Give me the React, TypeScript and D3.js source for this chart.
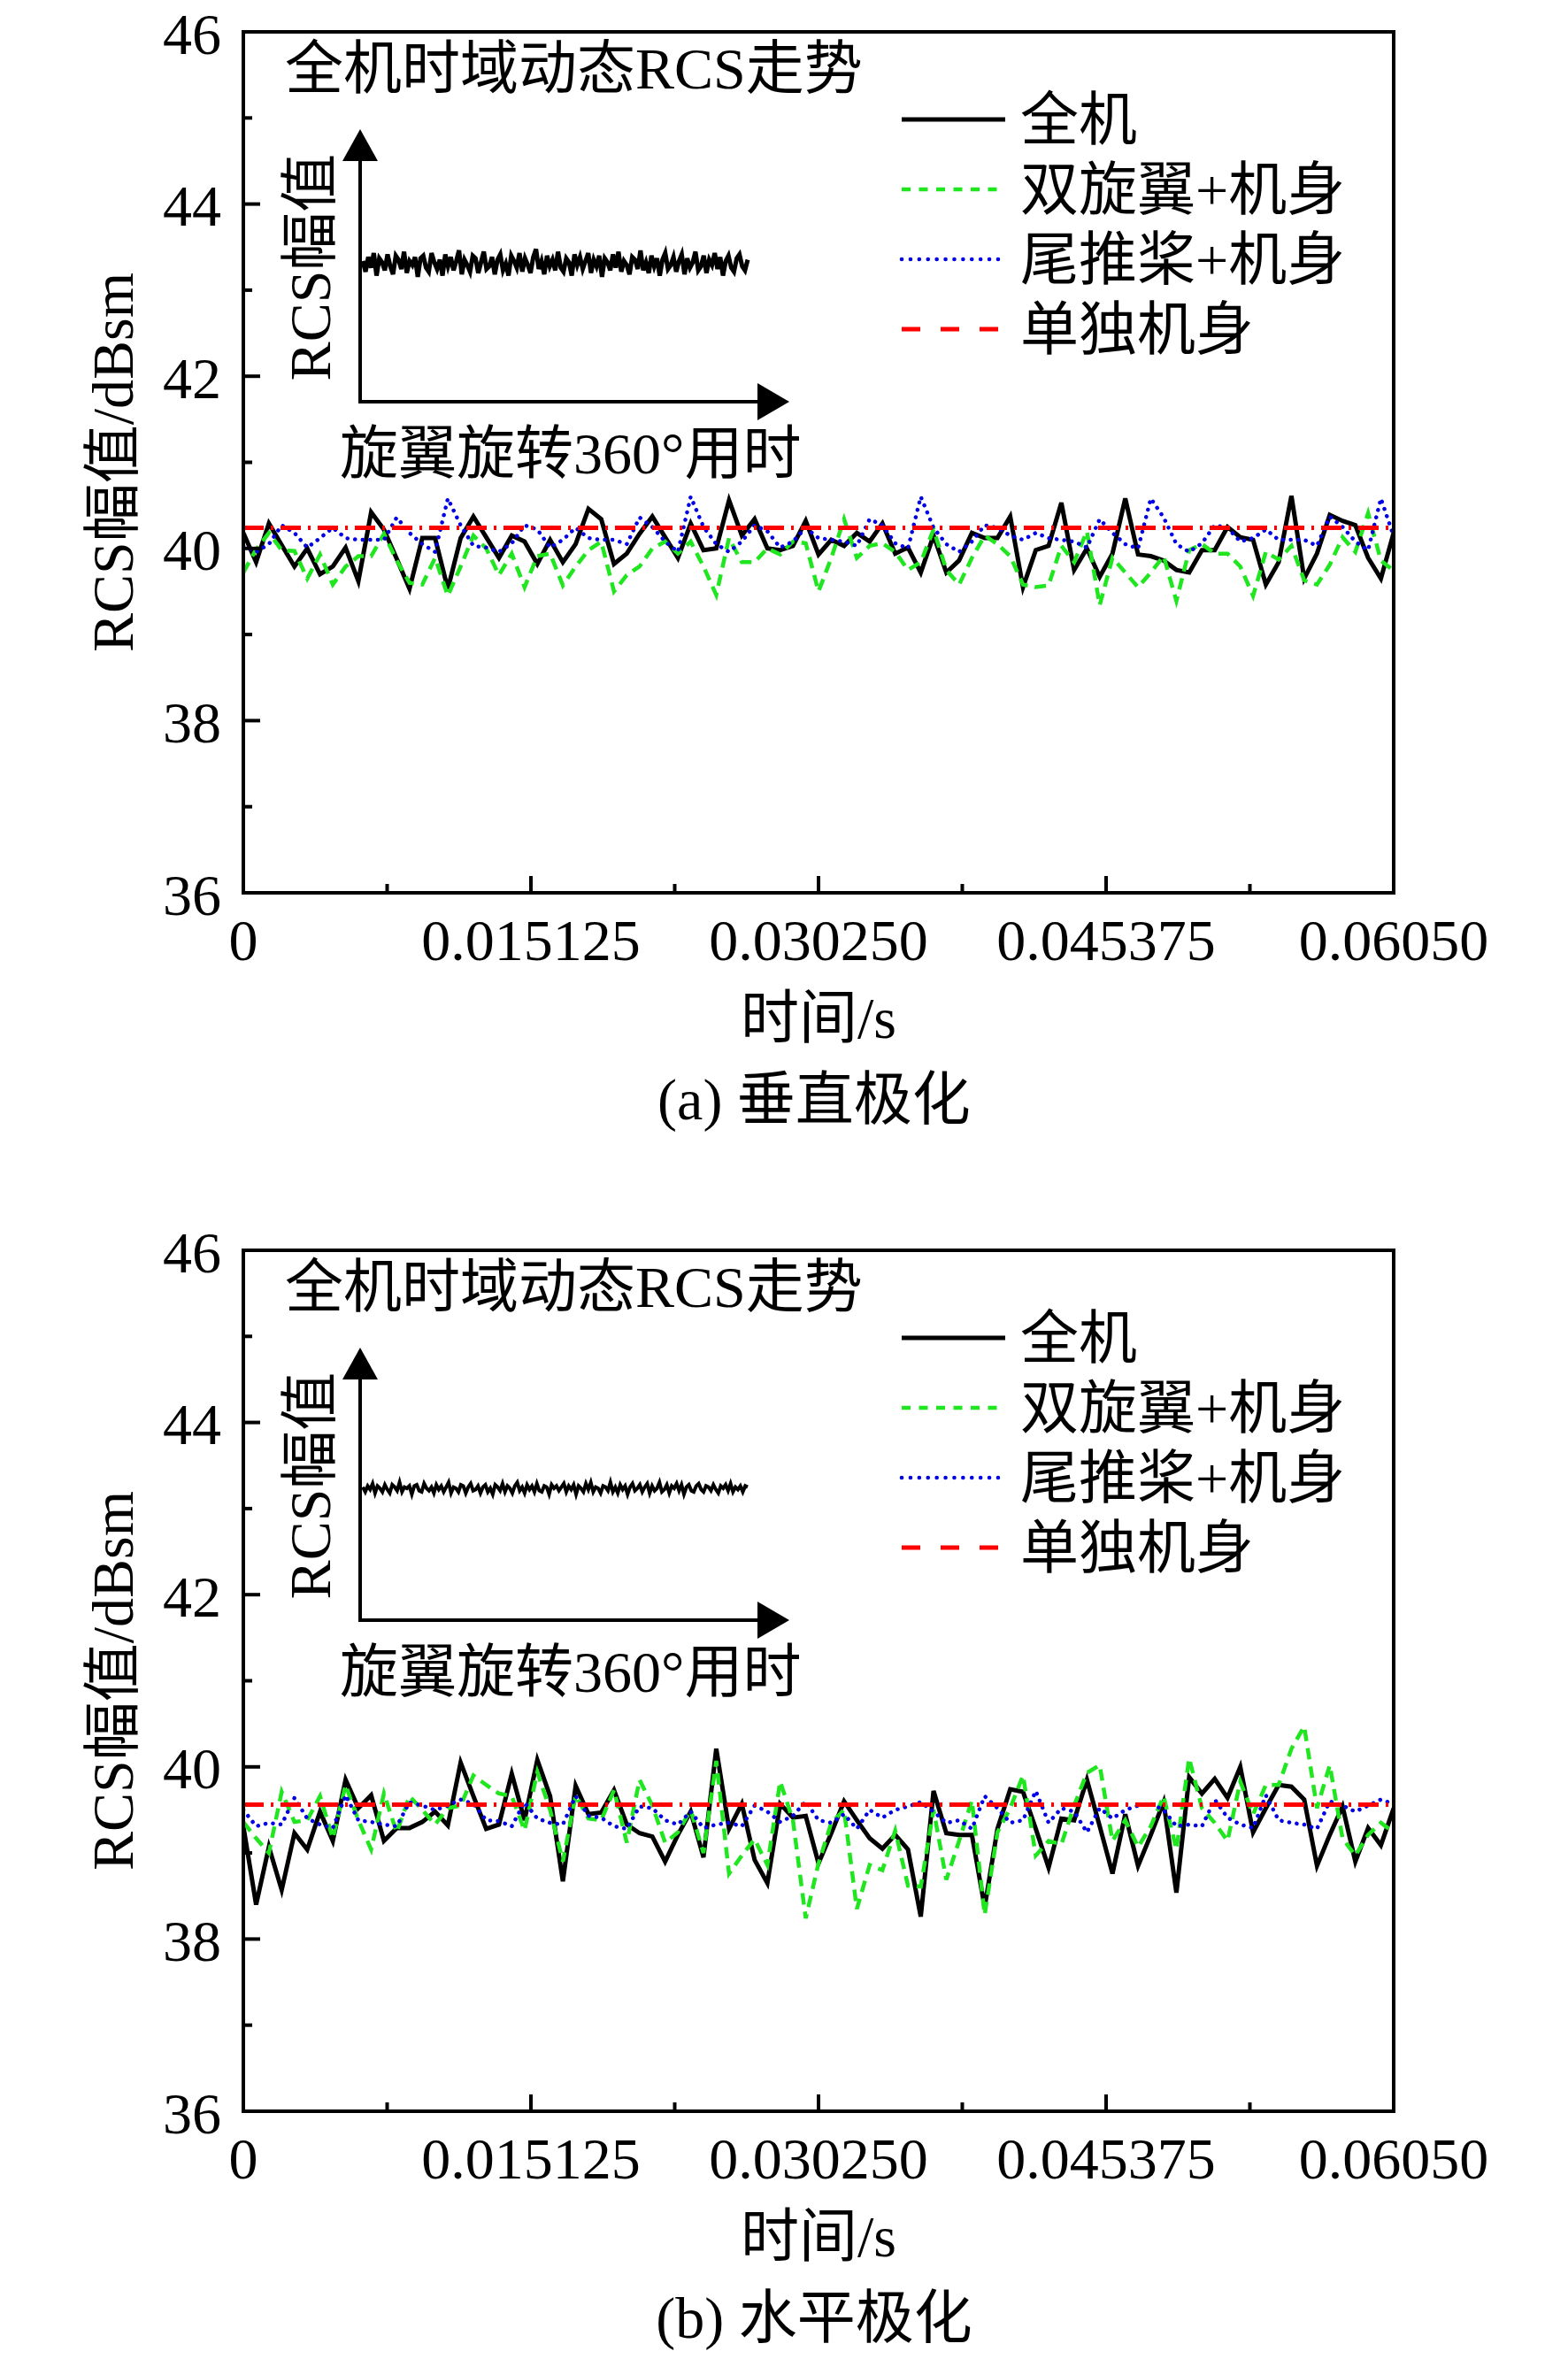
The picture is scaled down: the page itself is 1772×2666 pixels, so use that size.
import React, { useEffect, useRef } from 'react';
import * as d3 from 'd3';

// time axis
const T_END = 0.0605;
const N_STEPS = 90;
const xTickValues = [0, 0.015125, 0.03025, 0.045375, 0.0605];
const xTickLabels = ['0', '0.015125', '0.030250', '0.045375', '0.06050'];
const yTickValues = [36, 38, 40, 42, 44, 46];
const seriesNames = ['全机', '双旋翼+机身', '尾推桨+机身', '单独机身'];

// (a) vertical polarisation
const vWhole = [40.18, 39.84, 40.29, 40.04, 39.79, 40.0, 39.7, 39.79, 40.01, 39.62, 40.42, 40.22, 39.88, 39.53, 40.12, 40.12, 39.53, 40.12, 40.37, 40.13, 39.89, 40.15, 40.08, 39.82, 40.1, 39.84, 40.05, 40.46, 40.34, 39.82, 39.94, 40.17, 40.37, 40.13, 39.89, 40.29, 39.98, 40.0, 40.56, 40.15, 40.34, 40.0, 39.98, 40.03, 40.32, 39.93, 40.1, 40.03, 40.18, 40.08, 40.29, 39.94, 40.01, 39.72, 40.15, 39.72, 39.86, 40.18, 40.12, 40.12, 40.37, 39.55, 39.98, 40.03, 40.53, 39.75, 40.0, 39.67, 39.94, 40.58, 39.93, 39.91, 39.86, 39.75, 39.72, 39.98, 39.98, 40.25, 40.13, 40.1, 39.58, 39.84, 40.61, 39.65, 39.94, 40.39, 40.32, 40.27, 39.89, 39.65, 40.18];
const vRotor = [39.72, 39.99, 40.18, 39.98, 39.97, 39.65, 39.93, 39.58, 39.79, 39.91, 39.91, 40.17, 39.86, 39.6, 39.58, 39.89, 39.45, 39.79, 40.15, 40.0, 39.69, 39.94, 39.55, 39.91, 39.94, 39.57, 39.79, 39.98, 40.08, 39.5, 39.69, 39.79, 40.0, 40.08, 39.94, 40.08, 39.79, 39.46, 40.12, 39.84, 39.84, 40.0, 39.93, 40.08, 40.06, 39.5, 39.89, 40.34, 39.89, 40.03, 40.06, 39.96, 39.75, 39.84, 40.22, 39.75, 39.58, 39.89, 40.15, 40.05, 39.91, 39.58, 39.55, 39.57, 40.03, 39.84, 40.2, 39.34, 39.89, 39.72, 39.55, 39.72, 39.91, 39.39, 39.98, 40.05, 39.94, 39.94, 39.79, 39.45, 39.96, 39.87, 40.03, 39.63, 39.58, 39.81, 40.13, 39.96, 40.41, 39.86, 39.74];
const vProp = [40.03, 39.96, 40.05, 40.27, 40.18, 40.01, 40.12, 40.24, 40.12, 40.1, 40.1, 40.1, 40.36, 40.18, 40.05, 39.96, 40.58, 40.27, 40.03, 40.01, 39.96, 40.06, 40.27, 40.22, 40.01, 40.1, 40.24, 40.12, 40.1, 40.1, 40.05, 40.36, 40.25, 40.08, 39.96, 40.6, 40.25, 40.05, 39.96, 40.08, 40.27, 40.2, 40.01, 40.08, 40.24, 40.12, 40.1, 40.08, 40.03, 40.34, 40.27, 40.06, 40.0, 40.6, 40.24, 40.05, 39.96, 40.08, 40.27, 40.24, 40.15, 40.1, 40.18, 40.12, 40.1, 40.08, 40.01, 40.34, 40.18, 40.05, 40.0, 40.58, 40.36, 40.05, 39.96, 40.06, 40.27, 40.24, 40.08, 40.12, 40.22, 40.1, 40.1, 40.1, 40.03, 40.37, 40.25, 40.08, 39.98, 40.58, 40.14];
const vBody = 40.24;

// (b) horizontal polarisation
const hWhole = [39.31, 38.4, 39.07, 38.57, 39.23, 39.04, 39.48, 39.14, 39.85, 39.52, 39.67, 39.14, 39.29, 39.29, 39.36, 39.48, 39.32, 40.05, 39.66, 39.28, 39.33, 39.92, 39.38, 40.08, 39.66, 38.67, 39.78, 39.45, 39.47, 39.73, 39.33, 39.23, 39.19, 38.9, 39.21, 39.48, 38.95, 40.21, 39.28, 39.57, 38.92, 38.65, 39.57, 39.41, 39.43, 38.88, 39.23, 39.6, 39.38, 39.17, 39.05, 39.21, 39.04, 38.26, 39.72, 39.23, 39.21, 39.21, 38.37, 39.28, 39.74, 39.71, 39.28, 38.83, 39.4, 39.38, 39.85, 39.31, 38.76, 39.45, 38.85, 39.21, 39.59, 38.54, 39.88, 39.69, 39.86, 39.64, 40.0, 39.24, 39.52, 39.79, 39.77, 39.62, 38.85, 39.21, 39.54, 38.9, 39.29, 39.09, 39.52];
const hRotor = [39.36, 39.17, 39.0, 39.71, 39.36, 39.38, 39.66, 39.17, 39.79, 39.38, 39.04, 39.69, 39.24, 39.66, 39.5, 39.33, 39.52, 39.55, 39.9, 39.79, 39.69, 39.66, 39.26, 39.94, 39.5, 38.9, 39.67, 39.4, 39.38, 39.73, 39.12, 39.85, 39.55, 39.12, 39.24, 39.5, 39.0, 40.07, 38.76, 38.97, 39.16, 38.86, 39.83, 39.38, 38.24, 38.88, 39.35, 39.5, 38.35, 38.86, 38.8, 39.26, 38.62, 38.61, 39.5, 38.69, 39.14, 39.61, 38.28, 39.24, 39.52, 39.9, 38.97, 39.14, 39.1, 39.55, 39.93, 40.02, 39.14, 39.38, 39.07, 39.31, 39.66, 39.04, 40.1, 39.52, 39.35, 39.14, 39.83, 39.45, 39.79, 39.79, 40.21, 40.47, 39.52, 40.02, 39.17, 38.97, 39.21, 39.35, 39.24];
const hProp = [39.5, 39.31, 39.35, 39.33, 39.64, 39.4, 39.33, 39.29, 39.67, 39.38, 39.36, 39.33, 39.31, 39.59, 39.55, 39.5, 39.55, 39.62, 39.57, 39.38, 39.37, 39.31, 39.59, 39.4, 39.35, 39.33, 39.66, 39.43, 39.41, 39.31, 39.28, 39.54, 39.52, 39.38, 39.33, 39.48, 39.29, 39.33, 39.35, 39.31, 39.55, 39.48, 39.36, 39.43, 39.6, 39.38, 39.35, 39.45, 39.28, 39.5, 39.41, 39.5, 39.54, 39.59, 39.48, 39.35, 39.38, 39.28, 39.66, 39.52, 39.35, 39.38, 39.72, 39.35, 39.52, 39.48, 39.24, 39.52, 39.4, 39.5, 39.55, 39.57, 39.5, 39.31, 39.33, 39.31, 39.62, 39.41, 39.33, 39.29, 39.67, 39.38, 39.35, 39.33, 39.28, 39.6, 39.55, 39.48, 39.55, 39.62, 39.57];
const hBody = 39.56;

// inset sketches (relative amplitude)
const insetA = [2, -6, 5, -3, 8, -9, 4, 1, -5, 7, -2, -8, 6, 3, -4, 9, -7, 2, -1, 5, -10, 4, 6, -3, -6, 8, 1, -4, 3, -9, 7, -2, 5, -5, 2, 10, -8, 3, -1, -6, 6, 4, -7, 1, 9, -4, -2, 5, -8, 3, 7, -5, 0, -9, 6, 2, -3, 8, -6, 4, -1, -7, 5, 11, -4, 2, -8, 6, -2, 3, -5, 9, -3, -6, 4, 1, -9, 7, -1, 5, -4, 2, 8, -7, 3, -2, 6, -10, 4, 1, -5, 7, -3, 9, -6, 2, -1, -8, 5, 3, -4, 10, -5, 1, -7, 6, -2, 4, -9, 3, 8, -4, -1, 5, -6, 2, 7, -8, 4, -3, 1, 9, -5, -2, 6, -7, 3, -1, 8, -4, 5, -9, 2, 6, -3, -6, 4, 7, -2, -5, 3];
const insetB = [1, -3, 2, -1, 4, -4, 2, 0, -3, 3, -1, -4, 3, 1, -2, 5, -3, 1, 0, 2, -5, 2, 3, -2, -3, 4, 0, -2, 1, -4, 3, -1, 2, -3, 1, 5, -4, 1, 0, -3, 3, 2, -4, 1, 4, -2, -1, 2, -4, 1, 3, -3, 0, -5, 3, 1, -2, 4, -3, 2, 0, -4, 2, 5, -2, 1, -4, 3, -1, 2, -3, 4, -2, -3, 2, 1, -5, 3, 0, 2, -2, 1, 4, -3, 2, -1, 3, -5, 2, 0, -3, 4, -1, 5, -3, 1, 0, -4, 2, 1, -2, 5, -3, 1, -4, 3, -1, 2, -5, 1, 4, -2, 0, 3, -3, 1, 4, -4, 2, -2, 0, 5, -3, -1, 3, -4, 2, 0, 4, -2, 3, -5, 1, 3, -2, -3, 2, 4, -1, -3, 2, 1, -2, 3, -1, -4, 2, 0, 3, -2, 4, -3, 1, -1, 2, -3, 2, 1];

const FONT = "'Liberation Serif', 'Times New Roman', 'Noto Sans CJK SC', serif";
const FS = 66;
const LEFT = 275;
const RIGHT = 1575;
const FRAME_H = 973;

const styles = [
  { color: '#000000', width: 5, dash: null, legendDash: null, cap: 'butt' },
  { color: '#1fe61f', width: 4.5, dash: '13 8', legendDash: '10 9.5', cap: 'butt' },
  { color: '#0000e6', width: 4.5, dash: '0.1 8.5', legendDash: '0.1 9.8', cap: 'round' },
  { color: '#ff0000', width: 5, dash: '23 8 3 8', legendDash: '21 23', cap: 'butt' },
];

interface PanelSpec {
  top: number;
  whole: number[];
  rotor: number[];
  prop: number[];
  body: number;
  inset: number[];
  insetAmp: number;
  insetMax: number;
  insetY: number;
  insetWidth: number;
  caption: string;
}

function drawPanel(svg: d3.Selection<SVGSVGElement, unknown, null, undefined>, p: PanelSpec) {
  const top = p.top;
  const bottom = top + FRAME_H;
  const g = svg.append('g');

  const x = d3.scaleLinear().domain([0, T_END]).range([LEFT, RIGHT]);
  const y = d3.scaleLinear().domain([36, 46]).range([bottom, top]);
  const times = d3.range(N_STEPS + 1).map((i) => (i * T_END) / N_STEPS);

  const line = d3.line<number>()
    .x((_, i) => x(times[i]))
    .y((d) => y(d));

  const bodyLine = times.map(() => p.body);
  const series = [p.whole, p.rotor, p.prop, bodyLine];

  // clip to frame
  const clipId = `clip-${top}`;
  svg.append('defs').append('clipPath').attr('id', clipId)
    .append('rect').attr('x', LEFT).attr('y', top).attr('width', RIGHT - LEFT).attr('height', FRAME_H);

  const lines = g.append('g').attr('clip-path', `url(#${clipId})`);
  series.forEach((s, k) => {
    const st = styles[k];
    lines.append('path')
      .attr('d', line(s) as string)
      .attr('fill', 'none')
      .attr('stroke', st.color)
      .attr('stroke-width', st.width)
      .attr('stroke-linejoin', 'miter')
      .attr('stroke-linecap', st.cap)
      .attr('stroke-dasharray', st.dash);
  });

  // frame
  g.append('rect')
    .attr('x', LEFT).attr('y', top)
    .attr('width', RIGHT - LEFT).attr('height', FRAME_H)
    .attr('fill', 'none').attr('stroke', '#000').attr('stroke-width', 4);

  // y ticks
  d3.range(36, 47).forEach((v) => {
    const major = v % 2 === 0;
    g.append('line')
      .attr('x1', LEFT).attr('x2', LEFT + (major ? 19 : 10))
      .attr('y1', y(v)).attr('y2', y(v))
      .attr('stroke', '#000').attr('stroke-width', 4);
  });
  yTickValues.forEach((v) => {
    g.append('text')
      .attr('x', 250).attr('y', y(v) + 2)
      .attr('text-anchor', 'end').attr('dominant-baseline', 'central')
      .attr('font-family', FONT).attr('font-size', FS)
      .text(String(v));
  });

  // x ticks
  xTickValues.forEach((v, i) => {
    g.append('line')
      .attr('x1', x(v)).attr('x2', x(v))
      .attr('y1', bottom).attr('y2', bottom - 19)
      .attr('stroke', '#000').attr('stroke-width', 4);
    if (i < xTickValues.length - 1) {
      const m = (v + xTickValues[i + 1]) / 2;
      g.append('line')
        .attr('x1', x(m)).attr('x2', x(m))
        .attr('y1', bottom).attr('y2', bottom - 10)
        .attr('stroke', '#000').attr('stroke-width', 4);
    }
    g.append('text')
      .attr('x', x(v)).attr('y', bottom + 76)
      .attr('text-anchor', 'middle')
      .attr('font-family', FONT).attr('font-size', FS)
      .text(xTickLabels[i]);
  });

  // axis titles and caption
  const cx = (LEFT + RIGHT) / 2;
  g.append('text')
    .attr('x', cx).attr('y', bottom + 164)
    .attr('text-anchor', 'middle')
    .attr('font-family', FONT).attr('font-size', FS)
    .text('时间/s');
  g.append('text')
    .attr('x', cx - 5).attr('y', bottom + 256)
    .attr('text-anchor', 'middle')
    .attr('font-family', FONT).attr('font-size', FS)
    .text(p.caption);
  g.append('text')
    .attr('transform', `translate(127, ${top + FRAME_H / 2}) rotate(-90)`)
    .attr('text-anchor', 'middle').attr('dominant-baseline', 'central')
    .attr('font-family', FONT).attr('font-size', FS)
    .text('RCS幅值/dBsm');

  // inset sketch
  g.append('text')
    .attr('x', 322).attr('y', top + 64)
    .attr('font-family', FONT).attr('font-size', FS)
    .text('全机时域动态RCS走势');

  const ax = 407;
  const ay = top + 418;
  g.append('line')
    .attr('x1', ax).attr('x2', ax).attr('y1', ay + 2).attr('y2', top + 140)
    .attr('stroke', '#000').attr('stroke-width', 4);
  g.append('path')
    .attr('d', `M${ax},${top + 110} L${ax - 20},${top + 146} L${ax + 20},${top + 146} Z`)
    .attr('fill', '#000');
  g.append('line')
    .attr('x1', ax - 2).attr('x2', 862).attr('y1', ay).attr('y2', ay)
    .attr('stroke', '#000').attr('stroke-width', 4);
  g.append('path')
    .attr('d', `M892,${ay} L856,${ay - 21} L856,${ay + 21} Z`)
    .attr('fill', '#000');

  g.append('text')
    .attr('transform', `translate(350, ${top + 266}) rotate(-90)`)
    .attr('text-anchor', 'middle').attr('dominant-baseline', 'central')
    .attr('font-family', FONT).attr('font-size', FS)
    .text('RCS幅值');
  g.append('text')
    .attr('x', 384).attr('y', top + 499)
    .attr('font-family', FONT).attr('font-size', FS)
    .text('旋翼旋转360°用时');

  const ix = d3.scaleLinear().domain([0, p.inset.length - 1]).range([410, 845]);
  const iy = d3.scaleLinear().domain([-p.insetMax, p.insetMax]).range([p.insetAmp, -p.insetAmp]);
  const baseY = top + p.insetY;
  g.append('path')
    .attr('d', d3.line<number>().x((_, i) => ix(i)).y((d) => baseY + iy(d))(p.inset) as string)
    .attr('fill', 'none').attr('stroke', '#000').attr('stroke-width', p.insetWidth);

  // legend
  const rows = [99, 178, 257, 336];
  seriesNames.forEach((name, k) => {
    const st = styles[k];
    const ry = top + rows[k];
    g.append('line')
      .attr('x1', 1019).attr('x2', 1136).attr('y1', ry).attr('y2', ry)
      .attr('stroke', st.color).attr('stroke-width', st.width)
      .attr('stroke-linecap', st.cap)
      .attr('stroke-dasharray', st.legendDash);
    g.append('text')
      .attr('x', 1153).attr('y', ry)
      .attr('dominant-baseline', 'central')
      .attr('font-family', FONT).attr('font-size', FS)
      .text(name);
  });
}

const App: React.FC = () => {
  const svgRef = useRef<SVGSVGElement>(null);

  useEffect(() => {
    document.body.style.margin = '0';
    if (!svgRef.current) return;
    const svg = d3.select(svgRef.current);
    svg.selectAll('*').remove();

    svg.append('rect').attr('width', 1772).attr('height', 2666).attr('fill', '#fff');

    drawPanel(svg, {
      top: 36, whole: vWhole, rotor: vRotor, prop: vProp, body: vBody,
      inset: insetA, insetAmp: 18, insetMax: 12, insetY: 262, insetWidth: 5,
      caption: '(a) 垂直极化',
    });
    drawPanel(svg, {
      top: 1413, whole: hWhole, rotor: hRotor, prop: hProp, body: hBody,
      inset: insetB, insetAmp: 8, insetMax: 6, insetY: 269, insetWidth: 4,
      caption: '(b) 水平极化',
    });
  }, []);

  return (
    <svg ref={svgRef} width="1772" height="2666" style={{ display: 'block' }}></svg>
  );
};

export default App;
